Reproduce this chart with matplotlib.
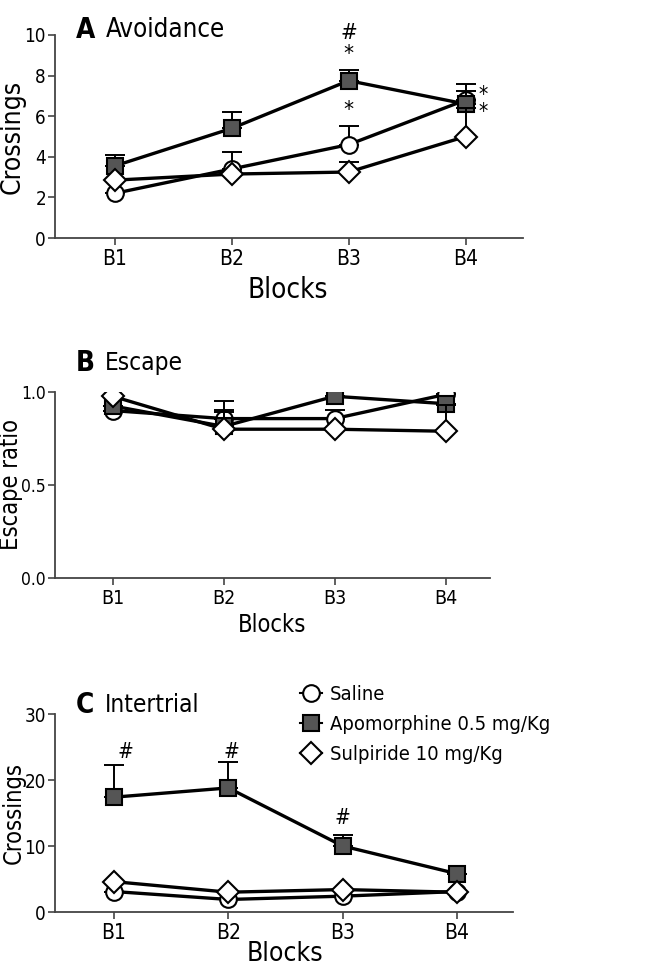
import numpy as np
import matplotlib
matplotlib.use('Agg')
import matplotlib.pyplot as plt

plt.rcParams['font.family'] = ['DejaVu Sans']
plt.rcParams['font.stretch'] = 'condensed'

# data
blocks = ['B1', 'B2', 'B3', 'B4']
groups = ['Saline', 'Apomorphine 0.5 mg/Kg', 'Sulpiride 10 mg/Kg']

# A - avoidance (mean, upper error end)
avoid_sal = [2.2, 3.4, 4.6, 6.8]
avoid_sal_top = [2.2, 4.25, 5.5, 7.25]
avoid_apo = [3.55, 5.4, 7.75, 6.6]
avoid_apo_top = [4.1, 6.2, 8.3, 7.6]
avoid_sul = [2.85, 3.15, 3.25, 5.0]
avoid_sul_top = [2.85, 3.15, 3.75, 6.4]

# B - escape ratio
esc_sal = [0.90, 0.857, 0.857, 0.987]
esc_sal_top = [0.90, 0.905, 0.903, 0.987]
esc_apo = [0.925, 0.815, 0.977, 0.937]
esc_apo_top = [0.925, 0.95, 0.977, 0.937]
esc_sul = [0.977, 0.80, 0.80, 0.789]
esc_sul_top = [0.977, 0.89, 0.80, 0.93]

# C - intertrial crossings
inter_sal = [3.1, 1.9, 2.4, 3.1]
inter_sal_top = [3.1, 1.9, 2.4, 3.1]
inter_apo = [17.4, 18.8, 10.0, 5.8]
inter_apo_top = [22.2, 22.7, 11.7, 5.8]
inter_sul = [4.6, 3.0, 3.4, 3.0]
inter_sul_top = [4.6, 3.0, 3.4, 3.0]

W, H = 670, 969
fig = plt.figure(figsize=(W / 100, H / 100), dpi=100)


def px_axes(left, right, top, bottom):
    return fig.add_axes([left / W, 1 - bottom / H, (right - left) / W, (bottom - top) / H])


styles = [dict(marker='o', mfc='white', ms=12),
          dict(marker='s', mfc='#555555', ms=12),
          dict(marker='D', mfc='white', ms=11)]


def draw(ax, series, tops):
    x = np.arange(1, 5)
    for i, (m, t) in enumerate(zip(series, tops)):
        m = np.array(m)
        up = np.array(t) - m
        ax.errorbar(x, m, yerr=[np.zeros(4), up], fmt='none', ecolor='black',
                    elinewidth=1.4, capsize=7, capthick=1.4, zorder=2 + i)
        ax.plot(x, m, color='black', lw=2.4, mec='black', mew=1.5,
                label=groups[i], zorder=3 + i, **styles[i])


def style(ax, xlim, ylim, yticks, ticklab, xfs, yfs):
    ax.set_xlim(*xlim)
    ax.set_ylim(*ylim)
    ax.set_xticks(np.arange(1, 5))
    ax.set_xticklabels(blocks)
    ax.set_yticks(yticks)
    ax.set_yticklabels(ticklab)
    for s in ['top', 'right']:
        ax.spines[s].set_visible(False)
    for s in ['left', 'bottom']:
        ax.spines[s].set_linewidth(1.3)
        ax.spines[s].set_color('#444444')
    ax.tick_params(direction='out', length=5, width=1.2, color='#444444', pad=3)
    ax.tick_params(axis='x', labelsize=xfs)
    ax.tick_params(axis='y', labelsize=yfs, pad=1.5)


# ---- A
axA = px_axes(55, 523, 35, 238)
draw(axA, [avoid_sal, avoid_apo, avoid_sul], [avoid_sal_top, avoid_apo_top, avoid_sul_top])
style(axA, (0.49, 4.49), (0, 10), [0, 2, 4, 6, 8, 10], ['0', '2', '4', '6', '8', '10'], 15, 13.5)
axA.set_ylabel('Crossings', fontsize=19)
axA.set_xlabel('Blocks', fontsize=20)
axA.yaxis.set_label_coords(-29 / 468, 0.5)
axA.xaxis.set_label_coords((288 - 55) / 468, -(276 - 238) / 203)
axA.text(3, 10.1, '#', ha='center', va='center', fontsize=16)
axA.text(3, 9.05, '*', ha='center', va='center', fontsize=16)
axA.text(3, 6.3, '*', ha='center', va='center', fontsize=16)
axA.text(4.15, 7.05, '*', ha='center', va='center', fontsize=15)
axA.text(4.15, 6.2, '*', ha='center', va='center', fontsize=15)
fig.text(76 / W, 1 - 30 / H, 'A', fontsize=20, fontweight='bold', va='center')
fig.text(106 / W, 1 - 30 / H, 'Avoidance', fontsize=18.5, va='center')

# ---- B
axB = px_axes(55, 490, 392, 578)
draw(axB, [esc_sal, esc_apo, esc_sul], [esc_sal_top, esc_apo_top, esc_sul_top])
style(axB, (0.48, 4.4), (0, 1.0), [0, 0.5, 1.0], ['0.0', '0.5', '1.0'], 14, 12.5)
axB.set_ylabel('Escape ratio', fontsize=17)
axB.set_xlabel('Blocks', fontsize=17)
axB.yaxis.set_label_coords(-32 / 435, 0.5)
axB.xaxis.set_label_coords((272 - 55) / 435, -(613 - 578) / 186)
fig.text(76 / W, 1 - 363 / H, 'B', fontsize=20, fontweight='bold', va='center')
fig.text(105 / W, 1 - 363 / H, 'Escape', fontsize=17.5, va='center')

# ---- C
axC = px_axes(55, 513, 714, 912)
draw(axC, [inter_sal, inter_apo, inter_sul], [inter_sal_top, inter_apo_top, inter_sul_top])
style(axC, (0.484, 4.49), (0, 30), [0, 10, 20, 30], ['0', '10', '20', '30'], 15, 13.5)
axC.set_ylabel('Crossings', fontsize=17)
axC.set_xlabel('Blocks', fontsize=19)
axC.yaxis.set_label_coords(-29 / 458, 0.5)
axC.xaxis.set_label_coords((285 - 55) / 458, -(941 - 912) / 198)
axC.text(1.1, 24.2, '#', ha='center', va='center', fontsize=15)
axC.text(2.03, 24.2, '#', ha='center', va='center', fontsize=15)
axC.text(3.0, 14.2, '#', ha='center', va='center', fontsize=15)
fig.text(76 / W, 1 - 705 / H, 'C', fontsize=20, fontweight='bold', va='center')
fig.text(105 / W, 1 - 705 / H, 'Intertrial', fontsize=17.5, va='center')
leg = axC.legend(loc='upper left', bbox_to_anchor=((300 - 55) / 458, 1.145), frameon=False,
                 fontsize=14.5, handlelength=1.1, handletextpad=0.4, labelspacing=0.55,
                 borderaxespad=0, borderpad=0)
for h in leg.legend_handles:
    h.set_linewidth(1.5)

fig.savefig('out.png', dpi=100)
